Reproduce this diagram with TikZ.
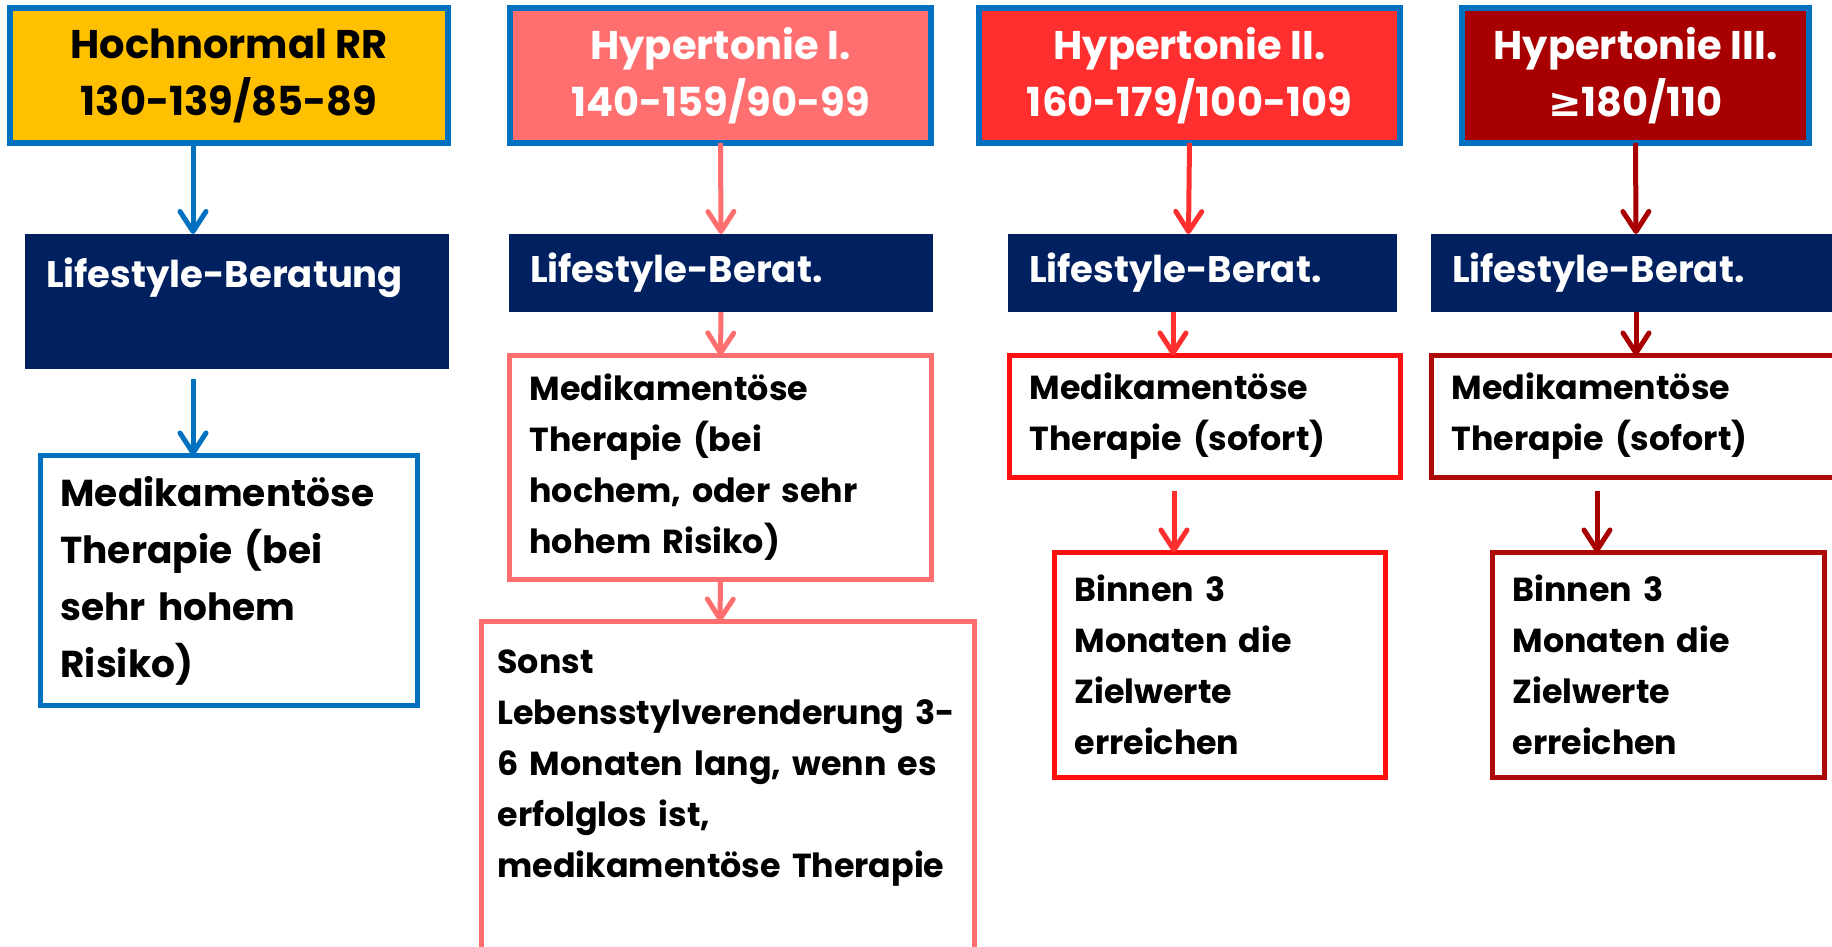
\documentclass[tikz,border=0pt]{standalone}
\usepackage{fontspec}
\setmainfont{Poppins}
\newfontfamily\symbfont{DejaVu Sans}
\usepackage{xcolor}
\usetikzlibrary{arrows.meta,positioning}

\definecolor{rrblau}{HTML}{0070C0}
\definecolor{rrgelb}{HTML}{FFC000}
\definecolor{rrhell}{HTML}{FF6F6F}
\definecolor{rrrot}{HTML}{FF2F2F}
\definecolor{rrrotrand}{HTML}{FF1010}
\definecolor{rrdunkel}{HTML}{A80000}
\definecolor{rrdunkelrand}{HTML}{AD0A0A}
\definecolor{rrnavy}{HTML}{002060}

\begin{document}
\begin{tikzpicture}[x=1pt, y=-1pt, -{Straight Barb[length=20pt,width=26pt,round]}, line width=5pt,
        kopf/.style = {draw=rrblau, line width=6pt, rectangle, anchor=north west, outer sep=0pt, align=center, minimum height=135pt, font=\fontsize{40}{57}\selectfont\bfseries},
        berat/.style = {fill=rrnavy, text=white, rectangle, anchor=north west, outer sep=0pt, align=left, inner xsep=21pt, font=\fontsize{37}{57}\selectfont\bfseries},
        kasten/.style = {draw, line width=5pt, rectangle, anchor=north west, outer sep=0pt, align=left, inner xsep=20pt, font=\fontsize{33.3}{51}\selectfont\bfseries}]
        \useasboundingbox (0,0) rectangle (1832,947);
        \clip (0,0) rectangle (1832,947);

        \node[kopf, fill=rrgelb, minimum width=438pt] (1) at (10,8) {Hochnormal RR\\130-139/85-89};
        \node[kopf, fill=rrhell, text=white, minimum width=421pt] (2) at (510,8) {Hypertonie I.\\140-159/90-99};
        \node[kopf, fill=rrrot, text=white, minimum width=421pt] (3) at (979,8) {Hypertonie II.\\160-179/100-109};
        \node[kopf, fill=rrdunkel, text=white, minimum width=347pt] (4) at (1462,8) {Hypertonie III.\\{\symbfont ≥}180/110};

        \node[berat, minimum width=424pt, minimum height=135pt, text width=382pt] (5) at (25,234) {Lifestyle-Beratung\\\mbox{}};
        \node[berat, minimum width=424pt, minimum height=78pt, text width=382pt] (6) at (509,234) {Lifestyle-Berat.};
        \node[berat, minimum width=389pt, minimum height=78pt, text width=347pt] (7) at (1008,234) {Lifestyle-Berat.};
        \node[berat, minimum width=430pt, minimum height=78pt, text width=388pt] (8) at (1431,234) {Lifestyle-Berat.};

        \node[kasten, draw=rrblau, minimum height=250pt, text width=337pt, font=\fontsize{37.5}{57}\selectfont\bfseries] (9) at (40.5,455.5) {Medikamentöse\\Therapie (bei\\sehr hohem\\Risiko)};
        \node[kasten, draw=rrhell, minimum height=224pt, text width=382pt] (10) at (509.5,355.5) {Medikamentöse\\Therapie (bei\\hochem, oder sehr\\hohem Risiko)};
        \node[kasten, draw=rrrotrand, minimum height=122pt, text width=351pt] (11) at (1009.5,355.5) {Medikamentöse\\Therapie (sofort)};
        \node[kasten, draw=rrdunkelrand, minimum height=122pt, text width=400pt] (12) at (1431.5,355.5) {Medikamentöse\\Therapie (sofort)};

        \node[kasten, draw=rrhell, inner xsep=16pt, inner ysep=28pt, text width=461pt] (13) at (481.5,621.5) {Sonst\\Lebensstylverenderung 3-\\6 Monaten lang, wenn es\\erfolglos ist,\\medikamentöse Therapie\\\mbox{}\\\mbox{}};
        \node[kasten, draw=rrrotrand, minimum height=225pt, text width=291pt] (14) at (1054.5,552.5) {Binnen 3\\Monaten die\\Zielwerte\\erreichen};
        \node[kasten, draw=rrdunkelrand, minimum height=225pt, text width=292pt] (15) at (1492.5,552.5) {Binnen 3\\Monaten die\\Zielwerte\\erreichen};

        \draw[rrblau] ([xshift=-36pt]1.south) -- ([xshift=-44pt]5.north);
        \draw[rrblau, shorten <=10pt] ([xshift=-44pt]5.south) -- ([xshift=-36pt]9.north);

        \draw[rrhell] (2.south) -- (6.north);
        \draw[rrhell] (6.south) -- (10.north);
        \draw[rrhell] (10.south) -- ([xshift=-8pt]13.north);

        \draw[rrrot] (3.south) -- ([xshift=-14pt]7.north);
        \draw[rrrot] ([xshift=-29.5pt]7.south) -- ([xshift=-32pt]11.north);
        \draw[rrrot, shorten <=13pt] ([xshift=-31pt]11.south) -- ([xshift=-46pt]14.north);

        \draw[rrdunkel] (4.south) -- ([xshift=-10pt]8.north);
        \draw[rrdunkel] ([xshift=-10pt]8.south) -- ([xshift=-15.5pt]12.north);
        \draw[rrdunkel, shorten <=13pt] ([xshift=-54.5pt]12.south) -- ([xshift=-61.5pt]15.north);
    \end{tikzpicture}
\end{document}
